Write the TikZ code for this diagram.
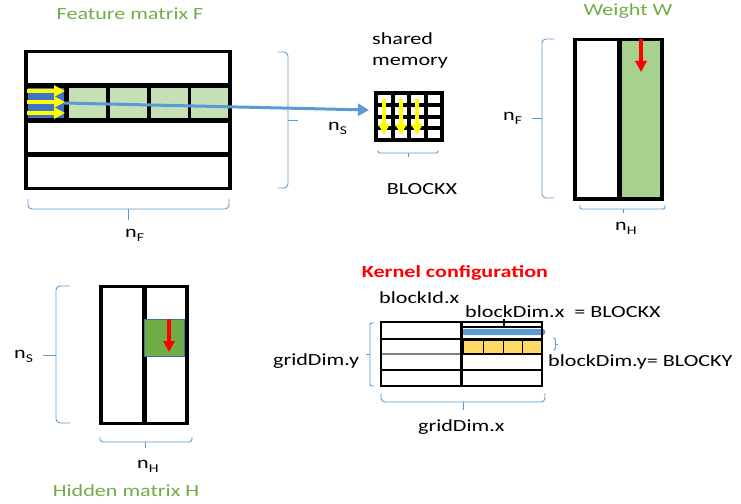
\documentclass[tikz,border=0pt]{standalone}
\usepackage{fontspec}
\setmainfont{Carlito}[FakeStretch=1.3]
\usetikzlibrary{arrows.meta,calc}
\definecolor{titlegreen}{RGB}{112,173,71}
\definecolor{cellblue}{RGB}{68,114,196}
\definecolor{lightgreen}{RGB}{197,224,180}
\definecolor{wgreen}{RGB}{169,209,142}
\definecolor{hgreen}{RGB}{112,173,71}
\definecolor{hborder}{RGB}{65,113,156}
\definecolor{bracecol}{RGB}{91,155,213}
\definecolor{yellowcell}{RGB}{255,217,102}
\definecolor{arrowyellow}{RGB}{255,255,0}
\definecolor{kred}{RGB}{255,0,0}
\newcommand\mysub[1]{\raisebox{-0.5ex}{\fontsize{12}{12}\selectfont #1}}
\tikzset{
  lbl/.style={font=\fontsize{17}{21}\selectfont, inner sep=0pt},
  yarr/.style={draw=arrowyellow, line width=4pt, -{Triangle[length=11pt,width=11pt]}},
  rarr/.style={draw=kred, line width=4pt, -{Triangle[length=11pt,width=11pt]}},
  conn/.style={draw=bracecol, line width=3pt, -{Triangle[length=11pt,width=12pt]}},
  brc/.style={draw=bracecol, line width=0.9pt, rounded corners=#1},
  brc/.default=4pt,
  cellbox/.style={inner sep=0pt, outer sep=0pt, anchor=north west},
  gline/.style={draw=black, line width=1.3pt},
}
\begin{document}
\begin{tikzpicture}[x=1pt,y=-1pt]
\useasboundingbox (0,0) rectangle (741,503);

% ---------------- Feature matrix F ----------------
\node[lbl, text=titlegreen, anchor=base] (ftitle) at (130,20) {Feature matrix F};
\fill (24,50) rectangle (232,190);
\fill[white] (28,53) rectangle (228,83);
\node[cellbox, fill=cellblue, minimum width=36pt, minimum height=30pt] (fcell) at (28,88) {};
\foreach \x in {69,110,151,191}{
  \fill[lightgreen] (\x,88) rectangle ++(37,30);
}
\fill[white] (28,123) rectangle (228,152);
\fill[white] (28,157) rectangle (228,187);
\draw[yarr] (27,91) -- (65,91);
\draw[yarr] (27,102) -- (65,102);
\draw[yarr] (27,113) -- (65,113);
\draw[brc] (278,52) -- (288,52) -- (288,188) -- (278,188);
\draw[brc=0pt] (288,120) -- (298,120);
\draw[brc] (28,199) -- (28,209) -- (229,209) -- (229,199);
\draw[brc=0pt] (128,209) -- (128,220);
\node[lbl, anchor=base west] (fnf) at (125,237) {n\mysub{F}};
\node[lbl, anchor=base west] (fns) at (328,130) {n\mysub{S}};

% ---------------- shared memory ----------------
\node[lbl, anchor=base west, align=left] (smlbl) at (372,66) {shared\\memory};
\node[cellbox, fill=black, minimum width=70pt, minimum height=51pt] (smem) at (374,91) {};
\foreach \i in {0,...,3}{
  \foreach \j in {0,...,3}{
    \fill[white] (378+\i*16.5, 95+\j*11.75) rectangle ++(12.5,7.75);
  }
}
\draw[yarr] (384,99) -- (384,135);
\draw[yarr] (401,99) -- (401,135);
\draw[yarr] (417,99) -- (417,135);
\draw[brc=2pt] (378,150) -- (378,153) -- (438,153) -- (438,150);
\draw[brc=0pt] (408,153) -- (408,157);
\node[lbl, anchor=base] (blockx) at (422,194) {BLOCKX};
\draw[conn] (fcell.east) -- ($(smem.west)+(-5,-6.5)$);

% ---------------- Weight W ----------------
\node[lbl, text=titlegreen, anchor=base] (wtitle) at (628,16) {Weight W};
\fill (573,38) rectangle (664,201);
\fill[white] (577,41) rectangle (617,197);
\fill[wgreen] (622,41) rectangle (660,197);
\draw[rarr] (641,39) -- (641,72);
\draw[brc] (554,39) -- (542,39) -- (542,198) -- (554,198);
\draw[brc=0pt] (542,118) -- (532,118);
\draw[brc=2pt] (580,205) -- (580,209) -- (665,209) -- (665,205);
\draw[brc=0pt] (623,209) -- (623,213);
\node[lbl, anchor=base west] (wnf) at (503,120) {n\mysub{F}};
\node[lbl, anchor=base west] (wnh) at (615,230) {n\mysub{H}};

% ---------------- Hidden matrix H ----------------
\fill (99,285) rectangle (189,425);
\fill[white] (103,288) rectangle (142,422);
\fill[white] (147,288) rectangle (185,422);
\filldraw[fill=hgreen, draw=hborder, line width=1pt] (144,319) rectangle (184,356);
\draw[rarr] (169,319) -- (169,352);
\draw[brc] (70,286) -- (56,286) -- (56,423) -- (70,423);
\draw[brc=0pt] (56,355) -- (43,355);
\draw[brc=3pt] (100,437) -- (100,442) -- (192,442) -- (192,437);
\draw[brc=0pt] (145,442) -- (145,448);
\node[lbl, anchor=base west] (hns) at (14,358) {n\mysub{S}};
\node[lbl, anchor=base west] (hnh) at (137,468) {n\mysub{H}};
\node[lbl, text=titlegreen, anchor=base] (htitle) at (126,496) {Hidden matrix H};

% ---------------- Kernel configuration ----------------
\node[lbl, text=kred, font=\fontsize{17}{21}\selectfont\bfseries, anchor=base] (ktitle) at (455,277) {Kernel configuration};
\node[lbl, anchor=base west] (bidx) at (379,303) {blockId.x};
\node[lbl, anchor=base west] (bdx) at (465,317) {blockDim.x~~= BLOCKX};
% yellow cells
\foreach \x/\w in {463/20,483/20,503/19,522/19}{
  \filldraw[fill=yellowcell, draw=black, line width=0.8pt] (\x,340) rectangle ++(\w,13);
}
% blue bar
\fill[bracecol, rounded corners=1.5pt] (462,329) rectangle (545,335);
% grid lines
\draw[gline] (381,339) -- (461,339);
\draw[draw=gray, line width=1.3pt] (381,354) -- (461,354);
\draw[gline] (381,370) -- (542,370);
\draw[gline] (462,339) -- (542,339);
\draw[black, line width=2pt] (462,354) -- (542,354);
\draw[gline] (462,327) -- (542,327);
\draw[gline] (504,319) -- (504,327);
\draw[black, line width=3pt] (461.5,322) -- (461.5,386);
\draw[black, line width=2pt] (381,322) rectangle (542,386);
\draw[brc=2pt] (374,323) -- (370,323) -- (370,386) -- (374,386);
\draw[brc=0pt] (370,354) -- (366,354);
\draw[brc=4pt] (381,393) -- (381,402) -- (545,402) -- (545,393);
\draw[brc=0pt] (463,402) -- (463,410);
\draw[brc=1.5pt] (553,338) -- (555.5,338) -- (555.5,350) -- (553,350);
\draw[brc=0pt] (555.5,344) -- (558,344);
\node[lbl, anchor=base west] (bdy) at (548,366) {blockDim.y= BLOCKY};
\node[lbl, anchor=base west] (gdy) at (273,365) {gridDim.y};
\node[lbl, anchor=base west] (gdx) at (418,431) {gridDim.x};
\end{tikzpicture}
\end{document}
